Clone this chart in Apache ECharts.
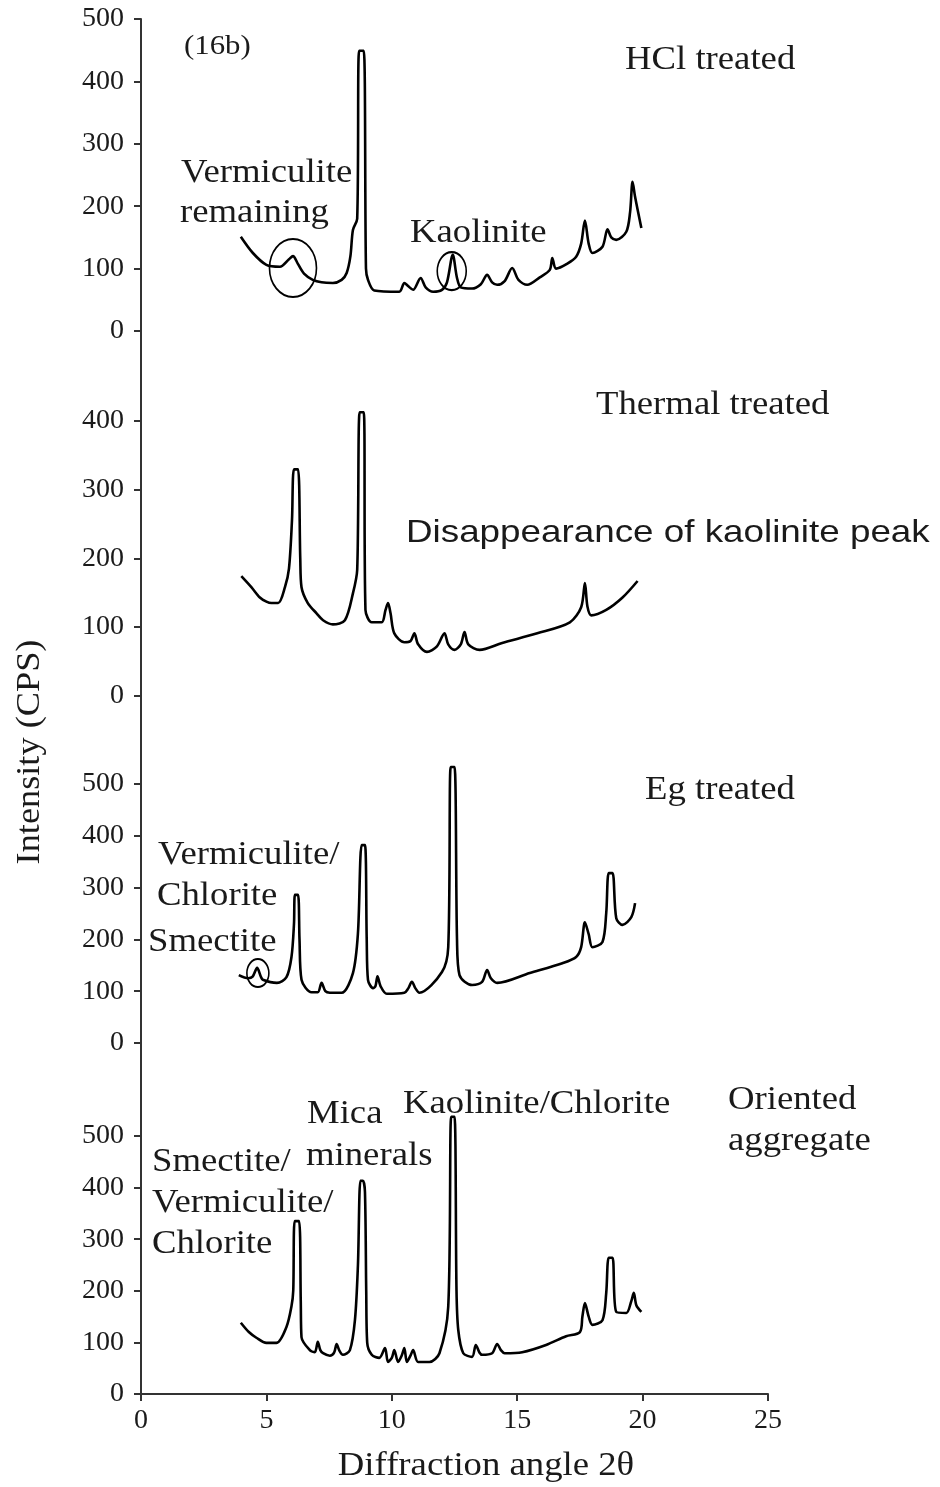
<!DOCTYPE html>
<html>
<head>
<meta charset="utf-8">
<title>XRD patterns (16b)</title>
<script src="https://cdn.jsdelivr.net/npm/echarts@6/dist/echarts.min.js"></script>
<style>
  html, body { margin: 0; padding: 0; background: #fff; }
  #chart { width: 940px; height: 1487px; }
</style>
</head>
<body>
<div id="chart"></div>
<script>
// diffraction angle 2θ vs intensity (CPS)
var hclData = [[3.98,151],[4.46,125],[5.0,106],[5.54,103],[5.9,115],[6.06,120],[6.25,108],[6.5,92],[6.85,82],[7.2,78],[7.65,77],[8.0,82],[8.2,93],[8.35,120],[8.45,162],[8.62,180],[8.7,449],[8.88,449],[8.97,100],[9.05,82],[9.3,65],[10.3,63],[10.5,77],[10.65,72],[10.85,66],[11.15,85],[11.35,70],[11.65,63],[12.0,66],[12.2,78],[12.43,122],[12.6,85],[12.75,70],[13.2,68],[13.55,75],[13.8,90],[14.0,78],[14.2,74],[14.5,80],[14.8,101],[15.05,82],[15.4,74],[15.9,86],[16.3,98],[16.4,117],[16.55,100],[17.0,108],[17.35,119],[17.55,140],[17.7,177],[17.85,140],[18.0,125],[18.4,135],[18.6,163],[18.75,150],[18.95,146],[19.35,159],[19.5,190],[19.6,239],[19.7,215],[19.95,165]];
var thermalData = [[4.0,174],[4.4,158],[4.74,143],[5.0,137],[5.2,135],[5.47,135],[5.74,158],[5.9,185],[6.02,255],[6.1,329],[6.26,329],[6.35,200],[6.4,158],[6.65,135],[7.0,120],[7.26,110],[7.65,104],[8.13,110],[8.45,149],[8.62,183],[8.72,412],[8.88,412],[8.95,125],[9.2,107],[9.6,107],[9.75,125],[9.85,135],[9.95,120],[10.1,91],[10.5,78],[10.75,80],[10.9,91],[11.05,75],[11.4,64],[11.8,72],[12.1,91],[12.25,75],[12.5,67],[12.75,75],[12.9,93],[13.05,75],[13.5,67],[14.4,77],[15.8,91],[17.1,107],[17.55,129],[17.7,164],[17.8,130],[17.95,117],[18.55,125],[19.2,143],[19.8,167]];
var egData = [[3.9,131],[4.27,125],[4.45,128],[4.63,145],[4.78,128],[4.86,122],[5.42,116],[5.8,127],[6.0,166],[6.1,230],[6.14,286],[6.26,286],[6.32,200],[6.4,122],[6.8,98],[7.05,98],[7.2,116],[7.35,100],[7.53,97],[8.0,97],[8.45,135],[8.65,212],[8.8,382],[8.93,382],[9.0,200],[9.05,122],[9.25,106],[9.35,110],[9.43,129],[9.55,110],[9.8,95],[10.5,97],[10.65,105],[10.8,118],[10.95,105],[11.1,97],[12.0,137],[12.25,185],[12.35,533],[12.5,533],[12.6,200],[12.7,131],[13.2,112],[13.6,118],[13.8,141],[13.95,125],[14.2,116],[15.5,135],[16.8,154],[17.35,166],[17.55,185],[17.7,233],[17.85,210],[18.0,185],[18.4,195],[18.55,251],[18.65,328],[18.8,328],[18.95,241],[19.2,228],[19.55,243],[19.7,270]];
var orientedData = [[3.98,138],[4.3,120],[4.6,109],[5.0,99],[5.4,99],[5.8,130],[6.0,170],[6.07,200],[6.13,335],[6.3,335],[6.37,180],[6.4,110],[6.73,85],[6.93,81],[7.05,101],[7.15,85],[7.26,79],[7.53,74],[7.7,80],[7.8,97],[7.9,85],[8.05,76],[8.33,85],[8.53,143],[8.65,250],[8.75,413],[8.85,413],[8.93,391],[8.98,200],[9.02,99],[9.2,76],[9.5,70],[9.73,89],[9.85,62],[10.0,70],[10.1,85],[10.25,62],[10.4,75],[10.5,89],[10.6,62],[10.75,75],[10.85,85],[11.05,62],[11.5,62],[11.9,79],[12.25,169],[12.37,537],[12.5,537],[12.58,200],[12.65,124],[12.85,79],[13.2,72],[13.35,95],[13.5,80],[13.6,76],[14.0,79],[14.2,97],[14.35,85],[14.5,79],[15.2,81],[16.15,95],[16.95,112],[17.5,120],[17.6,150],[17.7,176],[17.85,150],[18.0,134],[18.4,143],[18.55,196],[18.65,264],[18.8,264],[18.95,159],[19.35,157],[19.55,180],[19.65,196],[19.75,172],[19.95,159]];

// circled peaks: [angle, cps] centres
var hclCircles = [[6.06,101],[12.39,96]];
var egCircles = [[4.66,135]];

var yTicks5 = [0,100,200,300,400,500];
var yTicks4 = [0,100,200,300,400];

var serif = 'Liberation Serif';
var ink = '#1a1a1a';

var chart = echarts.init(document.getElementById('chart'));

function xAx(idx, show) {
    return {
        type: 'value', gridIndex: idx, min: 0, max: 25, interval: 5,
        show: show,
        axisLine: {lineStyle: {color: '#333', width: 2}},
        axisTick: {show: true, length: 7, lineStyle: {color: '#333', width: 2}},
        axisLabel: {fontFamily: serif, fontSize: 28, color: ink, margin: 13},
        splitLine: {show: false}
    };
}
function yAx(idx, max, ticks) {
    return {
        type: 'value', gridIndex: idx, min: 0, max: max, interval: 100,
        axisLine: {show: true, lineStyle: {color: '#333', width: 2}},
        axisTick: {show: true, length: 7, customValues: ticks, lineStyle: {color: '#333', width: 2}},
        axisLabel: {fontFamily: serif, fontSize: 28, color: ink, margin: 17, customValues: ticks},
        splitLine: {show: false}
    };
}
function line(idx, data, circles, sizes) {
    var s = {
        type: 'line', xAxisIndex: idx, yAxisIndex: idx, data: data,
        showSymbol: false, smooth: 0.3,
        lineStyle: {color: '#000', width: 2.6},
        silent: true
    };
    if (circles) {
        s.markPoint = {
            symbol: 'circle',
            label: {show: false},
            itemStyle: {color: 'rgba(0,0,0,0)', borderColor: '#000', borderWidth: 1.8},
            data: circles.map(function (c, i) { return {coord: c, symbolSize: sizes[i]}; })
        };
    }
    return s;
}

// the scan is a little wider than tall, so text gets a horizontal stretch
function txt(x, y, s, size, font, sx) {
    return {
        type: 'text', x: x, y: y, scaleX: sx || 1.08,
        style: {text: s, fontFamily: font || serif, fontSize: size || 34, fill: ink, textVerticalAlign: 'middle'}
    };
}

chart.setOption({
    animation: false,
    grid: [
        {left: 141, right: 172, top: 19, height: 312},
        {left: 141, right: 172, top: 331, height: 365},
        {left: 141, right: 172, top: 696, height: 347},
        {left: 141, right: 172, top: 1043, height: 351}
    ],
    xAxis: [xAx(0, false), xAx(1, false), xAx(2, false), xAx(3, true)],
    yAxis: [yAx(0, 500, yTicks5), yAx(1, 530, yTicks4), yAx(2, 670, yTicks5), yAx(3, 680, yTicks5)],
    series: [
        line(0, hclData, hclCircles, [[47,58],[29,38]]),
        line(1, thermalData),
        line(2, egData, egCircles, [[22,28]]),
        line(3, orientedData)
    ],
    graphic: [
        txt(184, 47, '(16b)', 28, serif, 1.1),
        txt(625, 60, 'HCl treated'),
        txt(181, 173, 'Vermiculite'),
        txt(180, 213, 'remaining'),
        txt(410, 233, 'Kaolinite'),
        txt(596, 405, 'Thermal treated'),
        txt(406, 533, 'Disappearance of kaolinite peak', 32, 'Liberation Sans', 1.15),
        txt(645, 790, 'Eg treated'),
        txt(158, 855, 'Vermiculite/'),
        txt(157, 896, 'Chlorite'),
        txt(148, 942, 'Smectite'),
        txt(307, 1114, 'Mica'),
        txt(306, 1156, 'minerals'),
        txt(403, 1104, 'Kaolinite/Chlorite'),
        txt(728, 1100, 'Oriented'),
        txt(728, 1141, 'aggregate'),
        txt(152, 1162, 'Smectite/'),
        txt(152, 1203, 'Vermiculite/'),
        txt(152, 1244, 'Chlorite'),
        {
            type: 'text', x: 30, y: 752, rotation: Math.PI / 2, scaleX: 1.1,
            style: {text: 'Intensity (CPS)', fontFamily: serif, fontSize: 33, fill: ink,
                    textAlign: 'center', textVerticalAlign: 'middle'}
        },
        {
            type: 'text', x: 486, y: 1466, scaleX: 1.08,
            style: {text: 'Diffraction angle 2θ', fontFamily: serif, fontSize: 34, fill: ink,
                    textAlign: 'center', textVerticalAlign: 'middle'}
        }
    ]
});
</script>
</body>
</html>
